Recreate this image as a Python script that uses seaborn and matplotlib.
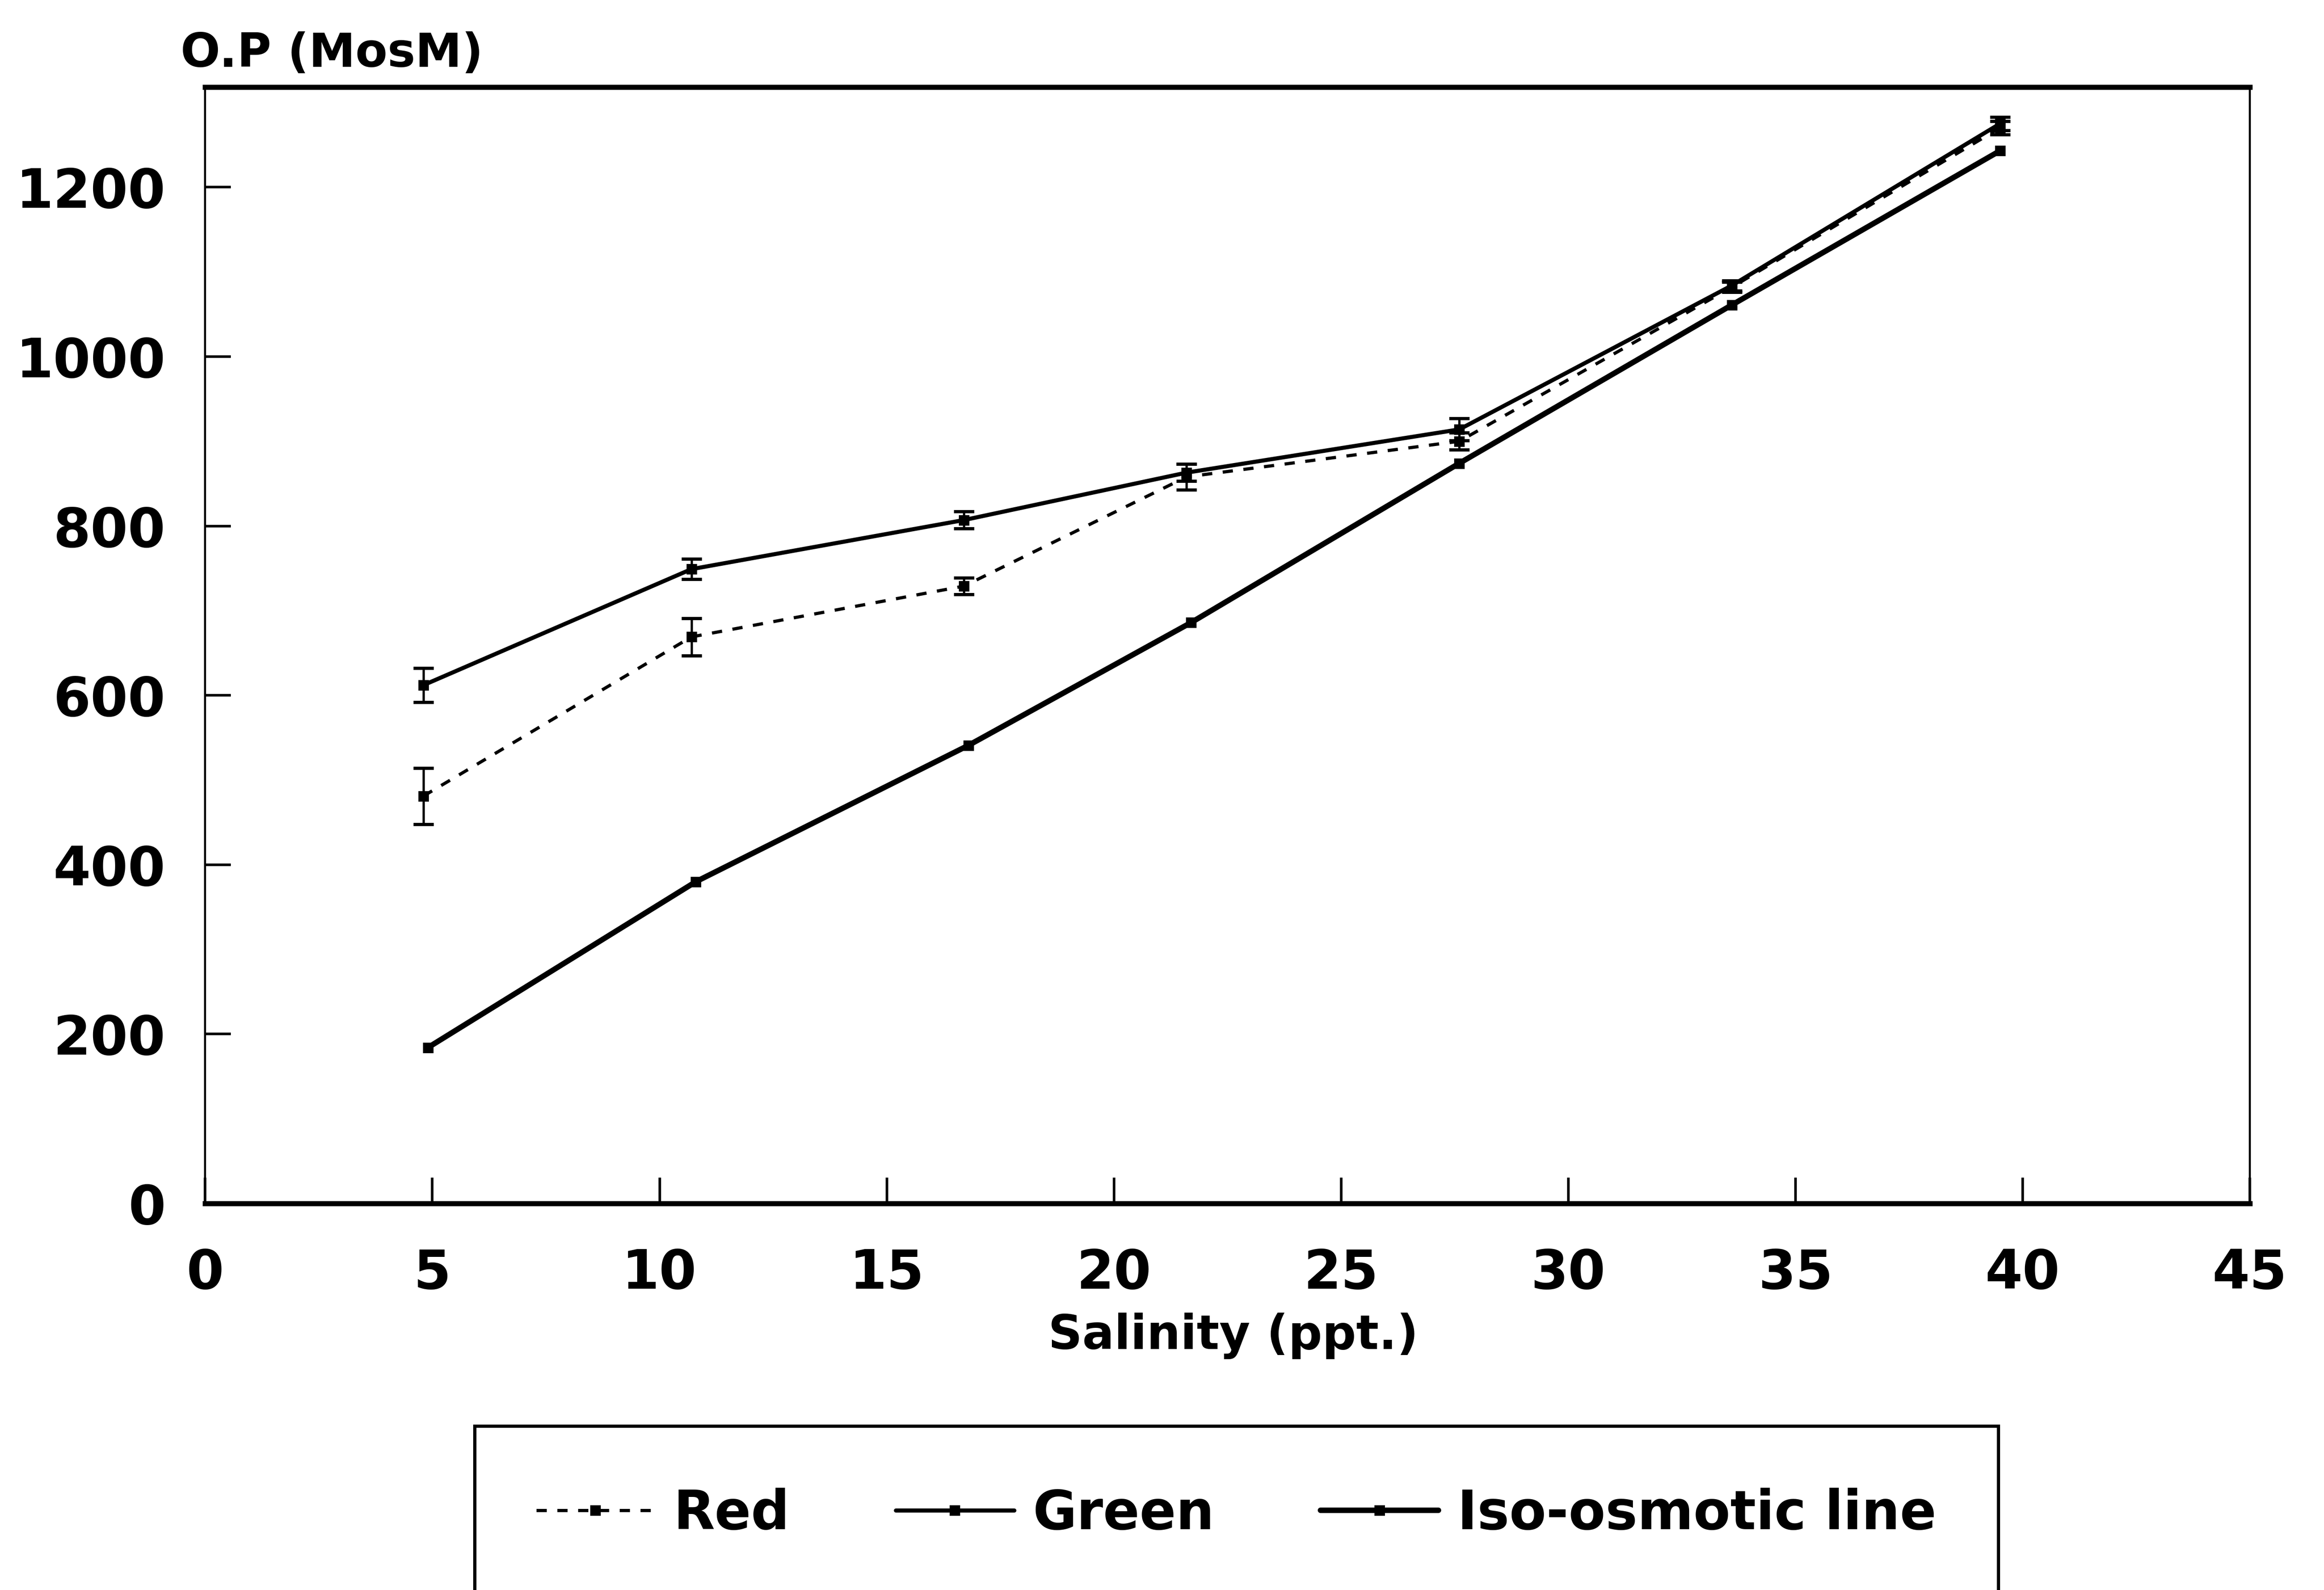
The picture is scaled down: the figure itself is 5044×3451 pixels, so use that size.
import matplotlib
matplotlib.use('Agg')
import matplotlib.pyplot as plt
import seaborn as sns
import pandas as pd

# ---- data ----
salinity = [4.8, 10.7, 16.7, 21.6, 27.6, 33.6, 39.5]
iso_salinity = [4.9, 10.8, 16.8, 21.7, 27.6, 33.6, 39.5]
red_op = [481, 669, 729, 858, 900, 1082, 1270]
red_err = [33, 22, 10, 15, 10, 6, 8]
green_op = [612, 749, 807, 863, 914, 1084, 1275]
green_err = [20, 12, 10, 10, 13, 6, 8]
iso_op = [184, 380, 541, 686, 874, 1061, 1243]

series_labels = ['Red', 'Green', 'Iso-osmotic line']
x_ticks = [0, 5, 10, 15, 20, 25, 30, 35, 40, 45]
y_ticks = [0, 200, 400, 600, 800, 1000, 1200]

sns.set_style('ticks')
plt.rcParams['font.family'] = ['DejaVu Sans']
plt.rcParams['text.color'] = 'black'
plt.rcParams['xtick.color'] = 'black'
plt.rcParams['ytick.color'] = 'black'
plt.rcParams['axes.edgecolor'] = 'black'

DPI = 200
fig = plt.figure(figsize=(5044 / DPI, 3451 / DPI), dpi=DPI)
ax = fig.add_axes([0.0883, 0.2431, 0.8798, 0.702])

red_df = pd.DataFrame({'x': salinity, 'y': red_op})
green_df = pd.DataFrame({'x': salinity, 'y': green_op})
iso_df = pd.DataFrame({'x': iso_salinity, 'y': iso_op})

sns.lineplot(data=red_df, x='x', y='y', ax=ax, color='black', linewidth=2.5,
             linestyle=(0, (3.2, 3.3)), marker='s', markersize=7.5,
             markeredgecolor='black', markeredgewidth=1, label=series_labels[0],
             legend=False)
sns.lineplot(data=green_df, x='x', y='y', ax=ax, color='black', linewidth=3.2,
             marker='s', markersize=7.5, markeredgecolor='black',
             markeredgewidth=1, label=series_labels[1], legend=False)
sns.lineplot(data=iso_df, x='x', y='y', ax=ax, color='black', linewidth=4.3,
             marker='s', markersize=7.5, markeredgecolor='black',
             markeredgewidth=1, label=series_labels[2], legend=False)
lines = list(ax.get_lines())

ax.errorbar(salinity, red_op, yerr=red_err, fmt='none', ecolor='black',
            elinewidth=1.8, capsize=8, capthick=2.5)
ax.errorbar(salinity, green_op, yerr=green_err, fmt='none', ecolor='black',
            elinewidth=1.8, capsize=8, capthick=2.5)

ax.set_xlim(0, 45)
ax.set_ylim(0, 1318)
ax.set_xticks(x_ticks)
ax.set_yticks(y_ticks)
ax.set_xlabel('')
ax.set_ylabel('')
ax.tick_params(axis='both', direction='in', length=20, width=2,
               labelsize=42, colors='black', top=False, right=False)
ax.tick_params(axis='x', pad=34)
ax.tick_params(axis='y', pad=31)
for lbl in ax.get_xticklabels() + ax.get_yticklabels():
    lbl.set_fontweight('bold')

for side in ['top', 'bottom']:
    ax.spines[side].set_linewidth(4)
    ax.spines[side].set_color('black')
for side in ['left', 'right']:
    ax.spines[side].set_linewidth(1.6)
    ax.spines[side].set_color('black')
ax.set_facecolor('white')
fig.patch.set_facecolor('white')

fig.text(0.0778, 0.958, 'O.P (MosM)', fontsize=36.5, fontweight='bold',
         ha='left', va='baseline')
fig.text(0.5306, 0.1516, 'Salinity (ppt.)', fontsize=37, fontweight='bold',
         ha='center', va='baseline')

leg = fig.legend(lines[:3], series_labels, loc='upper left',
                 bbox_to_anchor=(0.2042, 0.1032), ncol=3, frameon=True,
                 fancybox=False, edgecolor='black', facecolor='white',
                 framealpha=1, prop={'size': 42, 'weight': 'bold'},
                 handlelength=2.2, handletextpad=0.35, columnspacing=1.97,
                 borderpad=1.15, borderaxespad=0)
leg.get_frame().set_linewidth(2.5)

fig.savefig('out.png', dpi=DPI)
